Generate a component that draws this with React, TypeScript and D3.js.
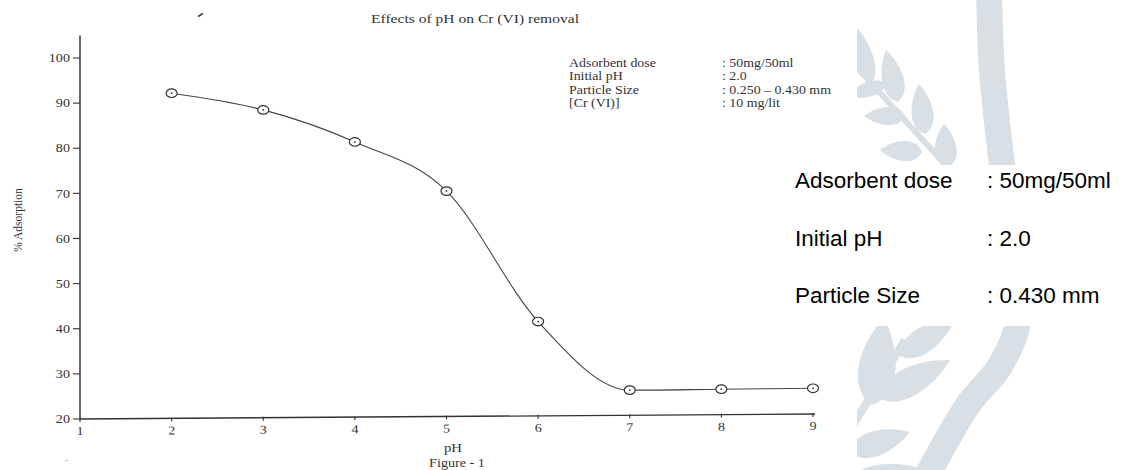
import React from "react";
import * as d3 from "d3";

// ---------- data ----------
const pHValues = [2, 3, 4, 5, 6, 7, 8, 9];
const adsorption = [92.2, 88.5, 81.4, 70.5, 41.6, 26.4, 26.6, 26.8];
const xTicks = [1, 2, 3, 4, 5, 6, 7, 8, 9];
const yTicks = [20, 30, 40, 50, 60, 70, 80, 90, 100];
const chartTitle = "Effects of pH on Cr (VI) removal";
const xLabel = "pH";
const yLabel = "% Adsorption";
const figureLabel = "Figure - 1";
const insetLabels = ["Adsorbent dose", "Initial pH", "Particle Size", "[Cr (VI)]"];
const insetValues = [": 50mg/50ml", ": 2.0", ": 0.250 – 0.430 mm", ": 10 mg/lit"];
const sideLabels = ["Adsorbent dose", "Initial pH", "Particle Size"];
const sideValues = [": 50mg/50ml", ": 2.0", ": 0.430 mm"];

// ---------- decorative watermark geometry ----------
const arcPoints: [number, number][] = [
  [989, -10], [992, 70], [1002, 165], [1014, 255], [1018, 322], [1000, 366], [968, 405], [926, 478],
];
const leaves: [number, number, number, number, number][] = [
  // top cluster  [baseX, baseY, tipX, tipY, width]
  [872, 82, 852, 22, 22],
  [898, 102, 886, 50, 26],
  [925, 134, 919, 84, 26],
  [947, 168, 944, 124, 26],
  [886, 84, 846, 96, 18],
  [905, 116, 864, 116, 22],
  [922, 152, 880, 150, 24],
  // bottom cluster
  [872, 405, 884, 318, 44],
  [880, 398, 950, 360, 34],
  [900, 356, 956, 318, 30],
  [850, 452, 910, 432, 30],
  [850, 480, 920, 468, 24],
];

const W = 1121;
const H = 470;
const ink = "#333";
const serif = "'Liberation Serif', 'Times New Roman', serif";
const sans = "'Liberation Sans', Arial, sans-serif";
const SX = 1.18; // horizontal stretch of the scanned figure

function leafPath(bx: number, by: number, tx: number, ty: number, w: number) {
  const dx = tx - bx, dy = ty - by;
  const len = Math.hypot(dx, dy);
  const nx = -dy / len, ny = dx / len;
  const ux = dx / len, uy = dy / len;
  const h = w * 0.62;
  const c1 = [bx + nx * h + ux * len * 0.15, by + ny * h + uy * len * 0.15];
  const c2 = [tx - ux * len * 0.35 + nx * h * 0.8, ty - uy * len * 0.35 + ny * h * 0.8];
  const c3 = [tx - ux * len * 0.35 - nx * h * 0.8, ty - uy * len * 0.35 - ny * h * 0.8];
  const c4 = [bx - nx * h + ux * len * 0.15, by - ny * h + uy * len * 0.15];
  return `M${bx},${by} C${c1[0]},${c1[1]} ${c2[0]},${c2[1]} ${tx},${ty} C${c3[0]},${c3[1]} ${c4[0]},${c4[1]} ${bx},${by} Z`;
}

function ST(props: { x: number; y: number; size: number; anchor?: string; children: React.ReactNode; fill?: string }) {
  const { x, y, size, anchor = "start", children, fill = ink } = props;
  return (
    <text
      transform={`translate(${x},${y}) scale(${SX},1)`}
      fontFamily={serif}
      fontSize={size}
      textAnchor={anchor}
      fill={fill}
    >
      {children}
    </text>
  );
}

export default function App() {
  const x = d3.scaleLinear().domain([1, 9]).range([80, 813]);
  const y = d3.scaleLinear().domain([20, 100]).range([419, 58]);

  const pts = pHValues.map((p, i) => [x(p), y(adsorption[i])] as [number, number]);
  const line = d3.line<[number, number]>().curve(d3.curveMonotoneX);
  const curve = line(pts) || "";

  const arcLine = d3.line<[number, number]>().curve(d3.curveCatmullRom.alpha(0.5));
  const arcD = arcLine(arcPoints) || "";

  const xAxisY = y(20);
  const slant = (Math.atan2(-5, x(9) - x(1)) * 180) / Math.PI;

  return (
    <div style={{ position: "fixed", left: 0, top: 0, width: W, height: H, background: "#fff" }}>
      <svg width={W} height={H} viewBox={`0 0 ${W} ${H}`} style={{ display: "block" }}>
        <rect x={0} y={0} width={W} height={H} fill="#fff" />

        {/* watermark */}
        <defs>
          <clipPath id="wm">
            <rect x={857} y={0} width={W - 857} height={H} />
          </clipPath>
        </defs>
        <g clipPath="url(#wm)" fill="#d9e0e5">
          <path d={arcD} fill="none" stroke="#d9e0e5" strokeWidth={26} />
          <line x1={852} y1={62} x2={952} y2={172} stroke="#d9e0e5" strokeWidth={6} />
          <line x1={850} y1={430} x2={905} y2={340} stroke="#d9e0e5" strokeWidth={8} />
          {leaves.map((l, i) => (
            <path key={i} d={leafPath(l[0], l[1], l[2], l[3], l[4])} />
          ))}
        </g>
        <rect x={793} y={165} width={W - 793} height={161} fill="#fff" />

        {/* scan artefacts */}
        <line x1={198} y1={16.5} x2={203} y2={13.5} stroke="#444" strokeWidth={1.8} />
        <line x1={65} y1={461} x2={68} y2={460} stroke="#bbb" strokeWidth={1} />

        {/* title */}
        <ST x={475} y={23} size={13.2} anchor="middle">{chartTitle}</ST>

        {/* y axis */}
        <line x1={80} y1={y(105)} x2={80} y2={y(20)} stroke={ink} strokeWidth={1.5} />
        {yTicks.map((t) => (
          <g key={t}>
            <line x1={73} x2={80} y1={y(t)} y2={y(t)} stroke={ink} strokeWidth={1.1} />
            <ST x={70} y={y(t) + 4.2} size={12} anchor="end">{t}</ST>
          </g>
        ))}
        <text
          transform={`translate(22,${220}) rotate(-90)`}
          fontFamily={serif}
          fontSize={11.5}
          textAnchor="middle"
          fill={ink}
        >
          {yLabel}
        </text>

        {/* x axis (slightly slanted like the scan) */}
        <g transform={`rotate(${slant},${x(1)},${xAxisY})`}>
          <line x1={x(1)} y1={xAxisY} x2={x(9) + 2} y2={xAxisY} stroke={ink} strokeWidth={1.4} />
          {xTicks.map((t) => (
            <g key={t}>
              <line x1={x(t)} x2={x(t)} y1={xAxisY - 1} y2={xAxisY + 3} stroke={ink} strokeWidth={1.1} />
              <ST x={x(t)} y={xAxisY + 16} size={12} anchor="middle">{t}</ST>
            </g>
          ))}
        </g>
        <ST x={453} y={452} size={12.5} anchor="middle">{xLabel}</ST>
        <ST x={457} y={467} size={12} anchor="middle">{figureLabel}</ST>

        {/* inset description */}
        {insetLabels.map((t, i) => (
          <g key={t}>
            <ST x={569} y={67 + i * 13.4} size={11.8}>{t}</ST>
            <ST x={722} y={67 + i * 13.4} size={11.8}>{insetValues[i]}</ST>
          </g>
        ))}

        {/* data curve */}
        <path d={curve} fill="none" stroke="#444" strokeWidth={1.1} />
        {pts.map((p, i) => (
          <g key={i}>
            <ellipse cx={p[0]} cy={p[1]} rx={5.5} ry={4.3} fill="#fff" stroke="#333" strokeWidth={1.2} />
            <circle cx={p[0]} cy={p[1]} r={0.9} fill="#333" />
          </g>
        ))}

        {/* side text */}
        {sideLabels.map((t, i) => (
          <g key={t}>
            <text x={795} y={188 + i * 57.5} fontFamily={sans} fontSize={22.5} fill="#000">{t}</text>
            <text x={987} y={188 + i * 57.5} fontFamily={sans} fontSize={22.5} fill="#000">{sideValues[i]}</text>
          </g>
        ))}
      </svg>
    </div>
  );
}
